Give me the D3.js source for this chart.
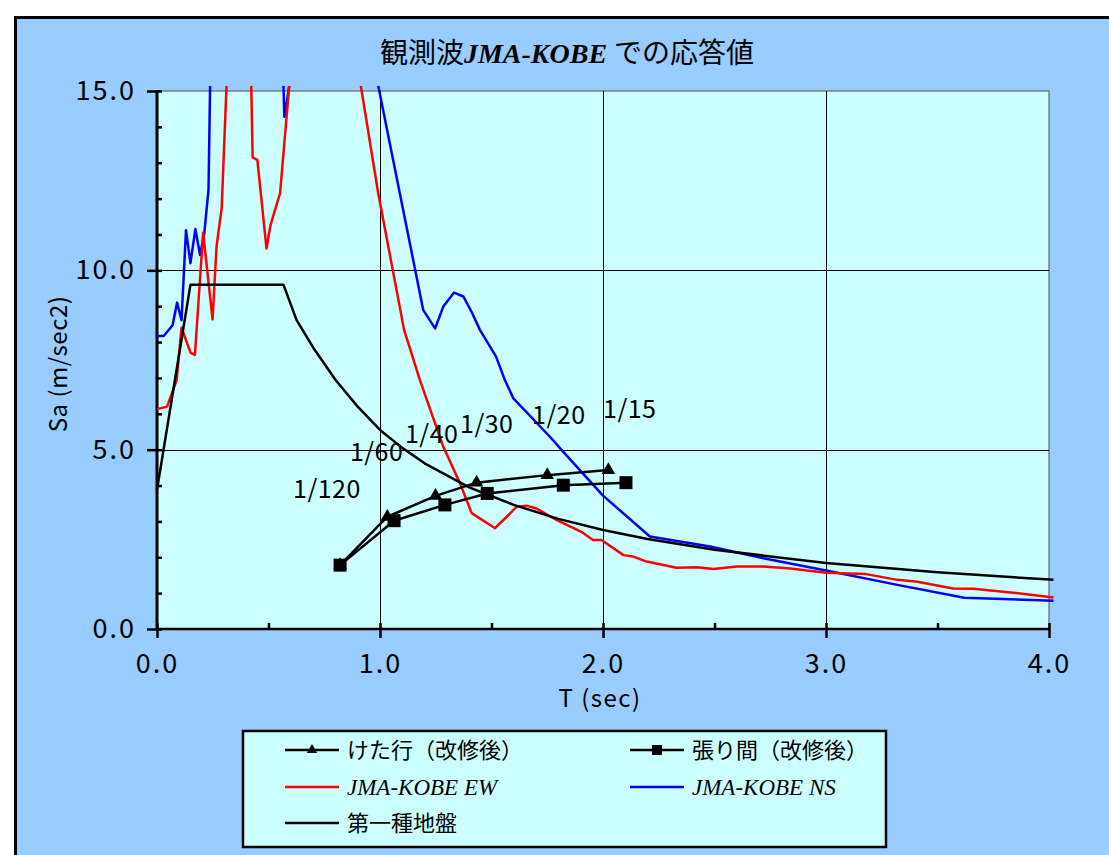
<!DOCTYPE html>
<html>
<head>
<meta charset="utf-8">
<script src="https://cdn.jsdelivr.net/npm/d3@7"></script>
<style>
  body { margin: 0; background: #fff; }
  text { font-family: "Noto Sans CJK JP", sans-serif; }
</style>
</head>
<body>
<div id="chart"></div>
<script>
const width = 1109;
const height = 855;

// 第一種地盤
const groundT  = [0, 0.15, 0.567, 0.626, 0.7, 0.8, 0.9, 1.0, 1.1, 1.2, 1.4, 1.6, 1.8, 2.0, 2.2, 2.5, 3.0, 3.5, 4.02];
const groundSa = [3.88, 9.6, 9.6, 8.61, 7.85, 6.95, 6.2, 5.55, 5.05, 4.62, 3.95, 3.46, 3.07, 2.76, 2.51, 2.21, 1.84, 1.58, 1.37];

// JMA-KOBE EW
const ewT  = [0, 0.045, 0.088, 0.11, 0.151, 0.17, 0.207, 0.249, 0.267, 0.29, 0.33, 0.36, 0.415, 0.429, 0.45, 0.491, 0.509, 0.552, 0.61, 0.7, 0.85,
              0.992, 1.108, 1.179, 1.284, 1.359, 1.411, 1.516, 1.568, 1.613, 1.657, 1.702, 1.791, 1.903, 1.955, 1.993, 2.092, 2.136, 2.196,
              2.33, 2.42, 2.495, 2.6, 2.72, 2.84, 3.0, 3.18, 3.32, 3.41, 3.57, 3.66, 3.84, 4.02];
const ewSa = [6.13, 6.2, 6.94, 8.4, 7.7, 7.64, 11.05, 8.63, 10.66, 11.73, 18, 22, 17.5, 13.15, 13.08, 10.61, 11.26, 12.15, 16.4, 24, 17.6,
              12.15, 8.34, 6.94, 5.08, 4.06, 3.23, 2.81, 3.13, 3.41, 3.44, 3.36, 3.04, 2.71, 2.48, 2.48, 2.06, 2.02, 1.88,
              1.71, 1.72, 1.67, 1.74, 1.74, 1.69, 1.57, 1.53, 1.37, 1.32, 1.13, 1.12, 1.01, 0.88];

// JMA-KOBE NS
const nsT  = [0, 0.03, 0.07, 0.09, 0.11, 0.13, 0.15, 0.172, 0.193, 0.212, 0.231, 0.25, 0.4, 0.55, 0.571, 0.62, 0.75, 0.9,
              1.194, 1.247, 1.284, 1.332, 1.374, 1.41, 1.448, 1.52, 1.56, 1.598, 1.762, 1.822, 2.0, 2.21, 2.48, 2.72, 3.0, 3.32, 3.62, 4.02];
const nsSa = [8.17, 8.17, 8.47, 9.1, 8.61, 11.12, 10.2, 11.15, 10.43, 11.03, 12.24, 20, 28, 19, 14.28, 16.2, 24, 18,
              8.89, 8.38, 8.99, 9.38, 9.27, 8.85, 8.34, 7.6, 6.94, 6.43, 5.36, 4.94, 3.72, 2.58, 2.3, 1.97, 1.63, 1.23, 0.87, 0.79];

// けた行（改修後）
const girderT  = [0.821, 1.033, 1.249, 1.433, 1.75, 2.024];
const girderSa = [1.78, 3.13, 3.71, 4.08, 4.29, 4.43];

// 張り間（改修後）
const spanT  = [0.821, 1.063, 1.291, 1.481, 1.822, 2.103];
const spanSa = [1.78, 3.02, 3.46, 3.78, 4.01, 4.08];

// 層間変形角ラベル
const ratioLabels = ["1/120", "1/60", "1/40", "1/30", "1/20", "1/15"];
const ratioT  = [0.61, 0.865, 1.112, 1.359, 1.682, 2.0];
const ratioSa = [3.65, 4.68, 5.18, 5.46, 5.71, 5.88];

const xMajor = [0, 1, 2, 3, 4];
const xMinor = d3.range(0, 4.01, 0.5);
const yMajor = [0, 5, 10, 15];
const yMinor = d3.range(0, 15.01, 1);

const svg = d3.select("#chart").append("svg")
    .attr("width", width)
    .attr("height", height);

// outer frame
svg.append("rect")
    .attr("x", 15.5).attr("y", 17.5)
    .attr("width", 1110).attr("height", 860)
    .attr("fill", "#99CCFF")
    .attr("stroke", "#000")
    .attr("stroke-width", 3);

const x = d3.scaleLinear().domain([0, 4]).range([157, 1049]);
const y = d3.scaleLinear().domain([0, 15]).range([629, 91]);

// plot area
svg.append("rect")
    .attr("x", x(0)).attr("y", y(15))
    .attr("width", x(4) - x(0)).attr("height", y(0) - y(15))
    .attr("fill", "#CCFFFF")
    .attr("stroke", "#666")
    .attr("stroke-width", 1.2);

// grid
svg.append("g").selectAll("line")
    .data([5, 10])
    .join("line")
    .attr("x1", x(0)).attr("x2", x(4))
    .attr("y1", d => Math.round(y(d)) + 0.5).attr("y2", d => Math.round(y(d)) + 0.5)
    .attr("stroke", "#000").attr("stroke-width", 1);
svg.append("g").selectAll("line")
    .data([1, 2, 3])
    .join("line")
    .attr("x1", d => Math.round(x(d)) + 0.5).attr("x2", d => Math.round(x(d)) + 0.5)
    .attr("y1", y(15)).attr("y2", y(0))
    .attr("stroke", "#000").attr("stroke-width", 1);

// title
const title = svg.append("text")
    .attr("x", 567).attr("y", 63)
    .attr("text-anchor", "middle")
    .style("white-space", "pre")
    .attr("font-size", 28)
    .attr("fill", "#000");
title.append("tspan").text("観測波");
title.append("tspan")
    .style("font-family", "'Liberation Serif', 'Times New Roman', serif")
    .attr("font-weight", "bold").attr("font-style", "italic")
    .text("JMA-KOBE ");
title.append("tspan").text("での応答値");

// axes
const axisG = svg.append("g");

axisG.append("g")
    .attr("transform", `translate(${x(0)},0)`)
    .call(d3.axisRight(y).tickValues(yMinor).tickSize(5).tickFormat(""))
    .call(g => g.select(".domain").remove());

axisG.append("g")
    .attr("transform", `translate(${x(0)},0)`)
    .call(d3.axisLeft(y).tickValues(yMajor).tickSize(10).tickPadding(11).tickFormat(d3.format(".1f")))
    .call(g => g.select(".domain").remove())
    .call(g => g.selectAll("text")
        .attr("font-family", "'Noto Sans CJK JP', sans-serif")
        .attr("font-size", 27)
        .attr("letter-spacing", 2)
        .attr("fill", "#000"));

axisG.append("g")
    .attr("transform", `translate(0,${y(0)})`)
    .call(d3.axisTop(x).tickValues(xMinor).tickSize(6).tickFormat(""))
    .call(g => g.select(".domain").remove());

axisG.append("g")
    .attr("transform", `translate(0,${y(0)})`)
    .call(d3.axisBottom(x).tickValues(xMajor).tickSize(9).tickFormat(d3.format(".1f")))
    .call(g => g.select(".domain").remove())
    .call(g => g.selectAll("text")
        .attr("y", 44).attr("dy", 0)
        .attr("font-family", "'Noto Sans CJK JP', sans-serif")
        .attr("font-size", 27)
        .attr("letter-spacing", 2)
        .attr("fill", "#000"));

axisG.selectAll(".tick line").attr("stroke", "#000").attr("stroke-width", 2.5);

// axis lines
axisG.append("line")
    .attr("x1", x(0)).attr("x2", x(0)).attr("y1", y(15) - 1).attr("y2", y(0) + 1)
    .attr("stroke", "#000").attr("stroke-width", 3);
axisG.append("line")
    .attr("x1", x(0) - 1).attr("x2", x(4) + 1).attr("y1", y(0)).attr("y2", y(0))
    .attr("stroke", "#000").attr("stroke-width", 2.5);

// axis titles
svg.append("text")
    .attr("x", 600).attr("y", 707)
    .attr("text-anchor", "middle")
    .attr("font-size", 24)
    .attr("letter-spacing", 1.5)
    .text("T (sec)");

svg.append("text")
    .attr("transform", "translate(67,364) rotate(-90)")
    .attr("text-anchor", "middle")
    .attr("font-size", 24)
    .attr("letter-spacing", 0.5)
    .text("Sa (m/sec2)");

// curves
svg.append("clipPath").attr("id", "clip")
    .append("rect")
    .attr("x", 150).attr("y", 86)
    .attr("width", 920).attr("height", 560);

const plot = svg.append("g").attr("clip-path", "url(#clip)");

const line = d3.line()
    .x(d => x(d[0]))
    .y(d => y(d[1]));

const series = [
    { t: nsT, sa: nsSa, color: "#0000FF" },
    { t: ewT, sa: ewSa, color: "#FF0000" },
    { t: groundT, sa: groundSa, color: "#000000" },
    { t: girderT, sa: girderSa, color: "#000000" },
    { t: spanT, sa: spanSa, color: "#000000" }
];

series.forEach(s => {
    plot.append("path")
        .datum(s.t.map((t, i) => [t, s.sa[i]]))
        .attr("fill", "none")
        .attr("stroke", s.color)
        .attr("stroke-width", 2.5)
        .attr("stroke-linejoin", "round")
        .attr("d", line);
});

// markers
plot.append("g").selectAll("path")
    .data(girderT.map((t, i) => [t, girderSa[i]]))
    .join("path")
    .attr("transform", d => `translate(${x(d[0])},${y(d[1])})`)
    .attr("d", d3.symbol(d3.symbolTriangle, 80))
    .attr("fill", "#000");

plot.append("g").selectAll("rect")
    .data(spanT.map((t, i) => [t, spanSa[i]]))
    .join("rect")
    .attr("x", d => x(d[0]) - 6.5).attr("y", d => y(d[1]) - 6.5)
    .attr("width", 13).attr("height", 13)
    .attr("fill", "#000");

// ratio labels
svg.append("g").selectAll("text")
    .data(ratioLabels)
    .join("text")
    .attr("x", (d, i) => x(ratioT[i]))
    .attr("y", (d, i) => y(ratioSa[i]))
    .attr("font-size", 25)
    .attr("letter-spacing", 0.5)
    .text(d => d);

// legend
const legend = svg.append("g");
legend.append("rect")
    .attr("x", 243).attr("y", 731)
    .attr("width", 643).attr("height", 116)
    .attr("fill", "#CCFFFF")
    .attr("stroke", "#000")
    .attr("stroke-width", 2.5);

const legendItems = [
    { label: "けた行（改修後）", color: "#000", marker: "triangle", col: 0, row: 0 },
    { label: "張り間（改修後）", color: "#000", marker: "square", col: 1, row: 0 },
    { label: "JMA-KOBE EW", color: "#FF0000", marker: null, col: 0, row: 1, italic: true },
    { label: "JMA-KOBE NS", color: "#0000FF", marker: null, col: 1, row: 1, italic: true },
    { label: "第一種地盤", color: "#000", marker: null, col: 0, row: 2 }
];
const colX = [285, 630];
const rowY = [750, 787, 823];

legendItems.forEach(it => {
    const lx = colX[it.col];
    const ly = rowY[it.row];
    legend.append("line")
        .attr("x1", lx).attr("x2", lx + 54)
        .attr("y1", ly).attr("y2", ly)
        .attr("stroke", it.color).attr("stroke-width", 2.5);
    if (it.marker === "triangle") {
        legend.append("path")
            .attr("transform", `translate(${lx + 27},${ly})`)
            .attr("d", d3.symbol(d3.symbolTriangle, 48))
            .attr("fill", "#000");
    } else if (it.marker === "square") {
        legend.append("rect")
            .attr("x", lx + 22).attr("y", ly - 5)
            .attr("width", 10).attr("height", 10)
            .attr("fill", "#000");
    }
    const t = legend.append("text")
        .attr("x", lx + 62)
        .attr("y", ly + 8)
        .attr("font-size", 22)
        .text(it.label);
    if (it.italic) {
        t.style("font-family", "'Liberation Serif', 'Times New Roman', serif")
            .attr("font-style", "italic")
            .attr("font-size", 23);
    }
});
</script>
</body>
</html>
